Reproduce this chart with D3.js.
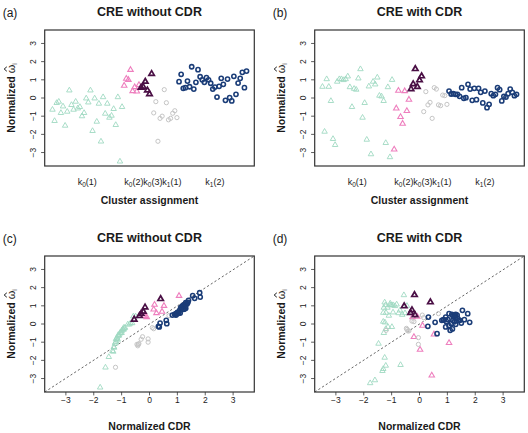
<!DOCTYPE html>
<html>
<head>
<meta charset="utf-8">
<script src="https://cdn.jsdelivr.net/npm/d3@7"></script>
<style>
  body { margin: 0; background: #fff; }
  text { font-family: "Liberation Sans", Arial, Helvetica, sans-serif; fill: #1a1a1a; }
</style>
</head>
<body>
<svg id="fig" width="528" height="433"></svg>
<script>
// ---- data ----
// (a) CRE without CDR, normalized omega by cluster (units in plotting order)
var mintA = [-0.64, -1.26, -0.27, -0.20, -0.82, -0.46, -1.52, -0.75, 0.42, -0.38, -0.64, -0.20, -0.57, -0.49, -1.0, -0.82, -0.02,
  -0.24, 0.42, -1.81, -0.02, -1.30, -0.31, -2.39, 0.05, -0.86, -0.31, -1.08, -0.97, -0.60, -1.48, 0.05, -3.49, -0.49];
var pinkA = [0.68, 1.06, 1.0, 1.55, 0.38, 0.6, 0.36, 0.72];
var purpleA = [0.57, 0.62, 0.9, 0.42, 0.22, 1.33];
var greyA = [-0.82, -0.2, -2.38, -1.12, -1.0, 0.46, -0.26, -1.2, -1.12, -0.84, -0.7, -1.08];
var navyA = [0.9, 1.3, 0.53, 0.57, 0.93, 0.62, 1.72, 0.49, 0.86, 1.56, 1.17, 1.0, 0.86, 1.12, 1.0, 0.81, 0.49, 0.6, 0.05, 0.64, 1.08,
  0.75, -0.13, 1.04, 0.02, -0.16, 1.19, 0.2, 0.82, 1.08, 1.41, 0.57, 1.48];

// (b) CRE with CDR
var mintB = [0.62, -1.85, 1.04, 0.62, -0.16, -2.25, -2.58, 0.9, 1.04, 1.04, 0.99, 1.04, 1.19, 0.6, -0.49, 0.51, 0.46, 1.08, 1.59,
  -1.08, -0.27, -2.29, 0.64, -3.09, 0.9, 0.75, 1.13, 0.13, 0.09, -0.16, -2.47, 0.6, -3.25, 1.0];
var pinkB = [-2.83, -0.57, 0.40, -1.04, -1.41, 0.38, -0.71, -0.09];
var purpleB = [0.49, 0.77, 1.6, 0.62, 0.98, 1.2];
var greyB = [-0.75, 0.35, -0.38, -0.24, -1.12, 0.57, 0.49, -0.38, -0.42, 0.16, 0.13, -0.35];
var navyB = [0.38, 0.22, 0.24, 0.2, 0.2, 0.09, 0.57, -0.02, 0.02, 0.75, 0.49, -0.13, 0.53, -0.09, 0.53, 0.31, -0.27, 0.38, -0.53,
  -0.35, 0.24, 0.13, 0.2, 0.57, 0.46, -0.16, 0.09, 0.05, 0.24, 0.49, 0.31, 0.13, 0.2];

// (c) normalized CDR vs omega, CRE without CDR  [cdr, omega]
var mintC = [[-1.12,-0.64],[-1.28,-1.26],[-0.95,-0.27],[-0.88,-0.20],[-1.20,-0.82],[-1.05,-0.46],[-1.30,-1.52],[-1.16,-0.75],
  [-0.50,0.42],[-1.00,-0.38],[-1.10,-0.64],[-0.92,-0.20],[-1.08,-0.57],[-1.03,-0.49],[-1.22,-1.0],[-1.18,-0.82],[-0.78,-0.02],
  [-0.90,-0.24],[-0.58,0.42],[-1.46,-1.81],[-0.72,-0.02],[-1.27,-1.30],[-0.97,-0.31],[-1.58,-2.39],[-0.68,0.05],[-1.14,-0.86],
  [-0.93,-0.31],[-1.24,-1.08],[-1.20,-0.97],[-1.12,-0.60],[-1.33,-1.48],[-0.62,0.05],[-1.77,-3.49],[-1.0,-0.49]];
var pinkC = [[0.45,0.68],[0.18,1.06],[0.52,1.0],[1.06,1.55],[-0.1,0.38],[0.15,0.8],[-0.17,0.45],[0.25,0.6]];
var purpleC = [[-0.3,0.57],[-0.22,0.68],[-0.16,0.92],[-0.36,0.45],[-0.55,0.25],[0.4,1.38]];
var greyC = [[-0.05,-0.82],[0.1,-0.2],[-1.22,-2.38],[-0.45,-1.12],[-0.05,-1.0],[0.7,0.46],[0.15,-0.26],[-0.42,-1.2],
  [-0.4,-1.12],[-0.3,-0.84],[-0.25,-0.7],[-0.38,-1.08]];
var navyC = [[1.12,0.9],[1.4,1.3],[0.9,0.53],[0.95,0.57],[1.2,0.93],[1.05,0.62],[1.8,1.72],[0.82,0.49],[1.15,0.86],[1.55,1.56],
  [1.3,1.17],[1.25,1.0],[1.3,0.86],[1.35,1.12],[1.18,1.0],[1.22,0.81],[0.95,0.49],[1.1,0.6],[0.38,0.05],[1.0,0.64],[1.28,1.08],
  [1.08,0.75],[0.32,-0.13],[1.22,1.04],[0.62,0.02],[0.35,-0.16],[1.38,1.19],[0.6,0.2],[1.25,0.82],[1.32,1.08],[1.62,1.41],
  [1.0,0.57],[1.82,1.48]];

// (d) CRE with CDR
var mintD = [[-1.2,0.62],[-1.25,-1.85],[-1.05,1.04],[-1.3,0.62],[-1.13,-0.16],[-0.68,-2.25],[-1.33,-2.58],[-1.15,0.9],
  [-1.22,1.04],[-0.95,1.04],[-0.88,0.99],[-1.0,1.04],[-1.25,1.19],[-0.75,0.6],[-1.28,-0.49],[-0.62,0.51],[-1.1,0.46],
  [-0.82,1.08],[-0.56,1.59],[-1.47,-1.08],[-1.21,-0.27],[-1.21,-2.29],[-0.95,0.64],[-1.6,-3.09],[-1.28,0.9],[-0.7,0.75],
  [-1.05,1.13],[-1.3,0.13],[-1.24,0.09],[-0.99,-0.16],[-1.3,-2.47],[-0.52,0.6],[-1.77,-3.25],[-0.45,1.0]];
var pinkD = [[0.44,-2.83],[0.52,-0.57],[-0.08,0.40],[1.06,-1.04],[0.02,-1.41],[-0.25,0.38],[-0.2,-0.71],[0.11,-0.09]];
var purpleD = [[-0.16,0.49],[-0.27,0.77],[-0.18,1.6],[-0.32,0.62],[-0.55,0.98],[0.39,1.2]];
var greyD = [[-0.04,-0.75],[0.15,0.35],[-0.42,-0.38],[-0.47,-0.24],[-0.04,-1.12],[0.68,0.57],[0.1,0.49],[-0.38,-0.38],
  [-1.2,-0.35],[-0.27,0.16],[-0.2,0.13],[-0.45,-0.3]];
var navyD = [[0.32,0.38],[0.85,0.22],[1.02,0.24],[0.8,0.2],[1.2,0.2],[0.56,0.09],[1.06,0.57],[1.3,-0.02],[1.14,0.02],
  [1.54,0.75],[1.25,0.49],[0.3,-0.13],[1.3,0.53],[1.06,-0.09],[1.16,0.53],[1.37,0.31],[1.18,-0.27],[0.94,0.38],[0.63,-0.53],
  [1.1,-0.35],[1.61,0.24],[0.97,0.13],[1.45,0.2],[1.73,0.57],[1.2,0.46],[0.94,-0.16],[1.8,0.09],[1.5,0.05],[0.88,0.24],
  [1.35,0.49],[1.28,0.31],[1.25,0.13],[1.4,0.2]];

var clusterLabels = [["k", "0", "(1)"], ["k", "0", "(2)"], ["k", "0", "(3)"], ["k", "1", "(1)"], ["k", "1", "(2)"]];
var clusterTickPos = [17.5, 39.6, 48.6, 57.6, 78];
var axisTicks = [-3, -2, -1, 0, 1, 2, 3];

// marker style per cluster
var styles = [
  { shape: "tri", color: "#9fd9c2", lw: 0.9 },
  { shape: "tri", color: "#ee7fbe", lw: 1.1 },
  { shape: "tri", color: "#4a0f45", lw: 1.7 },
  { shape: "circ", color: "#c5c5c5", lw: 1.0 },
  { shape: "circ", color: "#1b3d78", lw: 1.6 }
];

var svg = d3.select("#fig");
var W = 209.6, H = 136;
var LIM = 3.74;

var triPath = d3.symbol().type(d3.symbolTriangle).size(13)();

function drawMarks(g, pts, st) {
  if (st.shape === "tri") {
    g.selectAll(null).data(pts).enter().append("path")
      .attr("d", triPath)
      .attr("transform", function(d) { return "translate(" + d[0] + "," + d[1] + ")"; })
      .attr("fill", "none").attr("stroke", st.color).attr("stroke-width", st.lw);
  } else {
    g.selectAll(null).data(pts).enter().append("circle")
      .attr("cx", function(d) { return d[0]; })
      .attr("cy", function(d) { return d[1]; })
      .attr("r", 2.1)
      .attr("fill", "none").attr("stroke", st.color).attr("stroke-width", st.lw);
  }
}

function frame(left, top, tag, title) {
  var g = svg.append("g");
  g.append("text").attr("x", left - 42).attr("y", top - 13.5)
    .attr("font-size", 12).text(tag);
  g.append("text").attr("x", left + W / 2).attr("y", top - 14.5)
    .attr("text-anchor", "middle").attr("font-size", 12.5).attr("font-weight", "bold").text(title);

  var y = d3.scaleLinear().domain([-LIM, LIM]).range([top + H, top]);
  // y axis ticks + rotated labels
  g.selectAll(null).data(axisTicks).enter().append("line")
    .attr("x1", left - 3.6).attr("x2", left)
    .attr("y1", function(d) { return y(d); }).attr("y2", function(d) { return y(d); })
    .attr("stroke", "#333").attr("stroke-width", 0.8);
  g.selectAll(null).data(axisTicks).enter().append("text")
    .attr("transform", function(d) { return "translate(" + (left - 11.4) + "," + y(d) + ") rotate(-90)"; })
    .attr("text-anchor", "middle").attr("dy", "0.35em").attr("font-size", 8.5)
    .text(function(d) { return d < 0 ? "\u2212" + (-d) : d; });

  // y axis title: Normalized omega-hat_i
  var yl = g.append("g").attr("transform", "translate(" + (left - 35.7) + "," + (top + H / 2) + ") rotate(-90)");
  var t = yl.append("text").attr("text-anchor", "middle").attr("dy", "0.35em");
  t.append("tspan").attr("font-size", 10.5).attr("font-weight", "bold").text("Normalized ");
  t.append("tspan").attr("font-size", 11).text("\u03c9");
  t.append("tspan").attr("font-size", 7).attr("dy", 2.5).text("i");
  var ext = t.node().getExtentOfChar(11);
  var hx = ext.x + ext.width / 2, hy = ext.y + 1;
  yl.append("path")
    .attr("d", "M" + (hx - 2.2) + "," + (hy + 1.2) + "L" + hx + "," + (hy - 1.4) + "L" + (hx + 2.2) + "," + (hy + 1.2))
    .attr("fill", "none").attr("stroke", "#1a1a1a").attr("stroke-width", 1);

  return { g: g, y: y };
}

function box(g, left, top) {
  g.append("rect").attr("x", left).attr("y", top).attr("width", W).attr("height", H)
    .attr("fill", "none").attr("stroke", "#333").attr("stroke-width", 1.2);
}

function indexPanel(left, top, tag, title, series) {
  var f = frame(left, top, tag, title);
  var n = d3.sum(series, function(s) { return s.length; });
  var pad = 0.04 * (n - 1);
  var x = d3.scaleLinear().domain([1 - pad, n + pad]).range([left, left + W]);
  var idx = 1;
  series.forEach(function(s, k) {
    var pts = s.map(function(v) { return [x(idx++), f.y(v)]; });
    drawMarks(f.g, pts, styles[k]);
  });
  box(f.g, left, top);

  clusterLabels.forEach(function(lab, k) {
    var t = f.g.append("text").attr("x", x(clusterTickPos[k])).attr("y", top + H + 18.5)
      .attr("text-anchor", "middle").attr("font-size", 9);
    t.append("tspan").text(lab[0]);
    t.append("tspan").attr("font-size", 6.5).attr("dy", 2).text(lab[1]);
    t.append("tspan").attr("dy", -2).text(lab[2]);
  });
  f.g.append("text").attr("x", left + W / 2).attr("y", top + H + 37.5)
    .attr("text-anchor", "middle").attr("font-size", 10.5).attr("font-weight", "bold").text("Cluster assignment");
}

function scatterPanel(left, top, tag, title, series) {
  var f = frame(left, top, tag, title);
  var x = d3.scaleLinear().domain([-3.76, 3.76]).range([left, left + W]);
  f.g.append("line")
    .attr("x1", x(-3.76)).attr("y1", f.y(-LIM)).attr("x2", x(3.76)).attr("y2", f.y(LIM))
    .attr("stroke", "#555").attr("stroke-width", 0.9).attr("stroke-dasharray", "2.2,2.2");
  series.forEach(function(s, k) {
    var pts = s.map(function(d) { return [x(d[0]), f.y(d[1])]; });
    drawMarks(f.g, pts, styles[k]);
  });
  box(f.g, left, top);

  f.g.selectAll(null).data(axisTicks).enter().append("line")
    .attr("x1", function(d) { return x(d); }).attr("x2", function(d) { return x(d); })
    .attr("y1", top + H).attr("y2", top + H + 3.4)
    .attr("stroke", "#333").attr("stroke-width", 0.8);
  f.g.selectAll(null).data(axisTicks).enter().append("text")
    .attr("x", function(d) { return x(d); }).attr("y", top + H + 8)
    .attr("dy", "0.35em").attr("text-anchor", "middle").attr("font-size", 8.5)
    .text(function(d) { return d < 0 ? "\u2212" + (-d) : d; });
  f.g.append("text").attr("x", left + W / 2).attr("y", top + H + 37.5)
    .attr("text-anchor", "middle").attr("font-size", 10.5).attr("font-weight", "bold").text("Normalized CDR");
}

indexPanel(44.7, 30, "(a)", "CRE without CDR", [mintA, pinkA, purpleA, greyA, navyA]);
indexPanel(314.7, 30, "(b)", "CRE with CDR", [mintB, pinkB, purpleB, greyB, navyB]);
scatterPanel(44.7, 256, "(c)", "CRE without CDR", [mintC, pinkC, purpleC, greyC, navyC]);
scatterPanel(314.7, 256, "(d)", "CRE with CDR", [mintD, pinkD, purpleD, greyD, navyD]);
</script>
</body>
</html>
